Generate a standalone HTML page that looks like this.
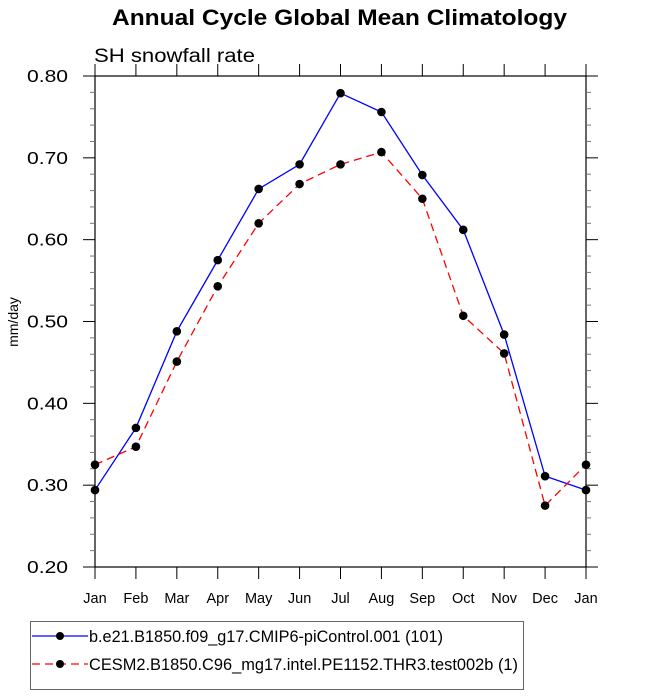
<!DOCTYPE html>
<html><head><meta charset="utf-8"><style>
body{margin:0;background:#fff;}
svg text{font-family:"Liberation Sans",Arial,sans-serif;}
</style></head><body>
<svg id="chart" width="648" height="694" xmlns="http://www.w3.org/2000/svg">
<text x="112" y="25" font-size="22" font-weight="bold" textLength="455" lengthAdjust="spacingAndGlyphs">Annual Cycle Global Mean Climatology</text>
<text x="94" y="62" font-size="19" textLength="161" lengthAdjust="spacingAndGlyphs">SH snowfall rate</text>
<text transform="translate(18,322) rotate(-90)" text-anchor="middle" font-size="14">mm/day</text>
<rect x="95" y="76" width="491" height="491" fill="none" stroke="#000" stroke-width="1.2"/>
<g id="axes"></g>
<g id="series"></g>
<g>
<rect x="30.5" y="621.5" width="493" height="68" fill="#fff" stroke="#666"/>
<g>
<line x1="32" y1="636" x2="88" y2="636" stroke="#0000ff" stroke-width="1.3"/>
<circle cx="60" cy="636" r="4" fill="#000"/>
<text x="89" y="642" font-size="17" textLength="354" lengthAdjust="spacingAndGlyphs">b.e21.B1850.f09_g17.CMIP6-piControl.001 (101)</text>
</g>
<g>
<line x1="32" y1="664" x2="88" y2="664" stroke="#ff0000" stroke-width="1.3" stroke-dasharray="8,5"/>
<circle cx="60" cy="664" r="4" fill="#000"/>
<text x="89" y="670" font-size="17" textLength="429" lengthAdjust="spacingAndGlyphs">CESM2.B1850.C96_mg17.intel.PE1152.THR3.test002b (1)</text>
</g>
</g>
</svg>
<script>
const months=["Jan","Feb","Mar","Apr","May","Jun","Jul","Aug","Sep","Oct","Nov","Dec","Jan"];
const yTicks=[0.2,0.3,0.4,0.5,0.6,0.7,0.8];
const blueValues=[0.294,0.370,0.488,0.575,0.662,0.692,0.779,0.756,0.679,0.612,0.484,0.311,0.294];
const redValues=[0.325,0.347,0.451,0.543,0.620,0.668,0.692,0.707,0.650,0.507,0.461,0.275,0.325];
const NS="http://www.w3.org/2000/svg";
const X0=95,X1=586,Y0=567,Y1=76,VMIN=0.2,VMAX=0.8;
function xs(i){return X0+(X1-X0)*i/(months.length-1);}
function ys(v){return Y0-(Y0-Y1)*(v-VMIN)/(VMAX-VMIN);}
function mk(tag,attrs,parent){const e=document.createElementNS(NS,tag);for(const k in attrs)e.setAttribute(k,attrs[k]);parent.appendChild(e);return e;}
const ax=document.getElementById('axes');
months.forEach((m,i)=>{
 const x=xs(i);
 const t1=mk('line',{x1:x,x2:x,y1:Y0,y2:Y0+12,stroke:'#000'},ax);
 
 
 const t2=mk('line',{x1:x,x2:x,y1:Y1,y2:Y1-12,stroke:'#000'},ax);
 
 
 const l=mk('text',{x:x,y:603,'text-anchor':'middle','font-size':'14.5'},ax);
 l.textContent=m;
 
 
});
for(let v=VMIN;v<=VMAX+1e-9;v+=0.02){
 const y=ys(v);
 const major=Math.abs(Math.round(v*10)-v*10)<1e-6;
 const len=major?12:5;
 const a=mk('line',{x1:X0-len,x2:X0,y1:y,y2:y,stroke:major?'#000':'#777'},ax);
 
 
 const b=mk('line',{x1:X1,x2:X1+len,y1:y,y2:y,stroke:major?'#000':'#777'},ax);
 
 
}
yTicks.forEach(v=>{
 const l=mk('text',{x:27,y:ys(v)+6,'font-size':'17.5',textLength:'41',lengthAdjust:'spacingAndGlyphs'},ax);
 l.textContent=v.toFixed(2);
 
 
});
const sg=document.getElementById('series');
function drawSeries(vals,color,dash,name){
 const pts=vals.map((v,i)=>xs(i)+','+ys(v)).join(' ');
 const p=mk('polyline',{points:pts,fill:'none',stroke:color,'stroke-width':1.3},sg);
 if(dash)p.setAttribute('stroke-dasharray',dash);
 
 
 vals.forEach((v,i)=>{
  const c=mk('circle',{cx:xs(i),cy:ys(v),r:4.3,fill:'#000'},sg);
  
  
 });
}
drawSeries(blueValues,'#0000ff',null,'blue-series');
drawSeries(redValues,'#ff0000','8,5','red-series');
</script>
</body></html>
